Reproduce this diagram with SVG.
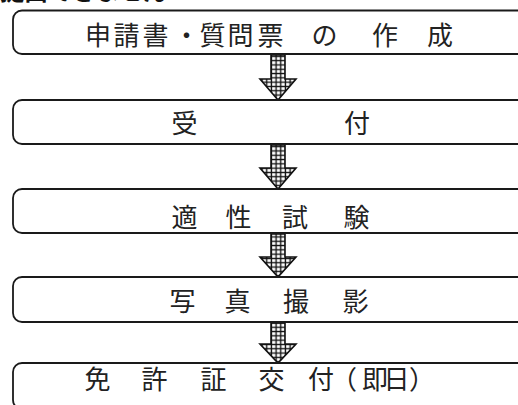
<svg xmlns="http://www.w3.org/2000/svg" width="518" height="405" viewBox="0 0 518 405">
<style>
.box{fill:#fff;stroke:#1a1a1a;stroke-width:1.8}
.lbl{font-family:"Liberation Serif","Noto Sans CJK JP",serif;font-size:26px;fill:#222}
.arr{fill:url(#grid);stroke:#111;stroke-width:1.6;stroke-linejoin:miter}
.head{font-family:"Noto Sans CJK JP",sans-serif;font-weight:700;font-size:24px;fill:#111}
</style>
<defs>
<pattern id="grid" patternUnits="userSpaceOnUse" x="271" y="0" width="4.67" height="4.3">
<rect width="4.67" height="4.3" fill="#111"/>
<rect x="1.1" y="1.1" width="3.3" height="3" fill="#fff"/>
</pattern>
</defs>
<rect width="518" height="405" fill="#fff"/>
<text class="head" x="0" y="0">提出できません</text>
<g id="connectors">
<polygon class="arr" points="271,55 285,55 285,79 296,79 278,100 260,79 271,79"/>
<polygon class="arr" points="271,145 285,145 285,168 296,168 278,189 260,168 271,168"/>
<polygon class="arr" points="271,234 285,234 285,257 296,257 278,277 260,257 271,257"/>
<polygon class="arr" points="271,323 285,323 285,344 296,344 278,363 260,344 271,344"/>
</g>
<g id="n1">
<rect class="box" x="13" y="10.5" width="530" height="43.5" rx="9"/>
<text class="lbl" x="85 113.5 142.5 173.5 199.5 227.5 257.5 311.5 372 427" y="44.5">申請書・質問票の作成</text>
</g>
<g id="n2">
<rect class="box" x="13" y="100" width="530" height="44" rx="9"/>
<text class="lbl" x="171.5 344" y="133">受付</text>
</g>
<g id="n3">
<rect class="box" x="13" y="189" width="530" height="44" rx="9"/>
<text class="lbl" x="171.5 225.5 282 343.5" y="227">適性試験</text>
</g>
<g id="n4">
<rect class="box" x="13" y="277" width="530" height="45" rx="9"/>
<text class="lbl" x="169.5 224.5 283 342.5" y="311">写真撮影</text>
</g>
<g id="n5">
<rect class="box" x="13" y="363" width="530" height="46" rx="9"/>
<text class="lbl" x="84.5 141.5 200.5 258.5 308 331 362 383.5 409" y="389">免許証交付（即日）</text>
</g>
</svg>
